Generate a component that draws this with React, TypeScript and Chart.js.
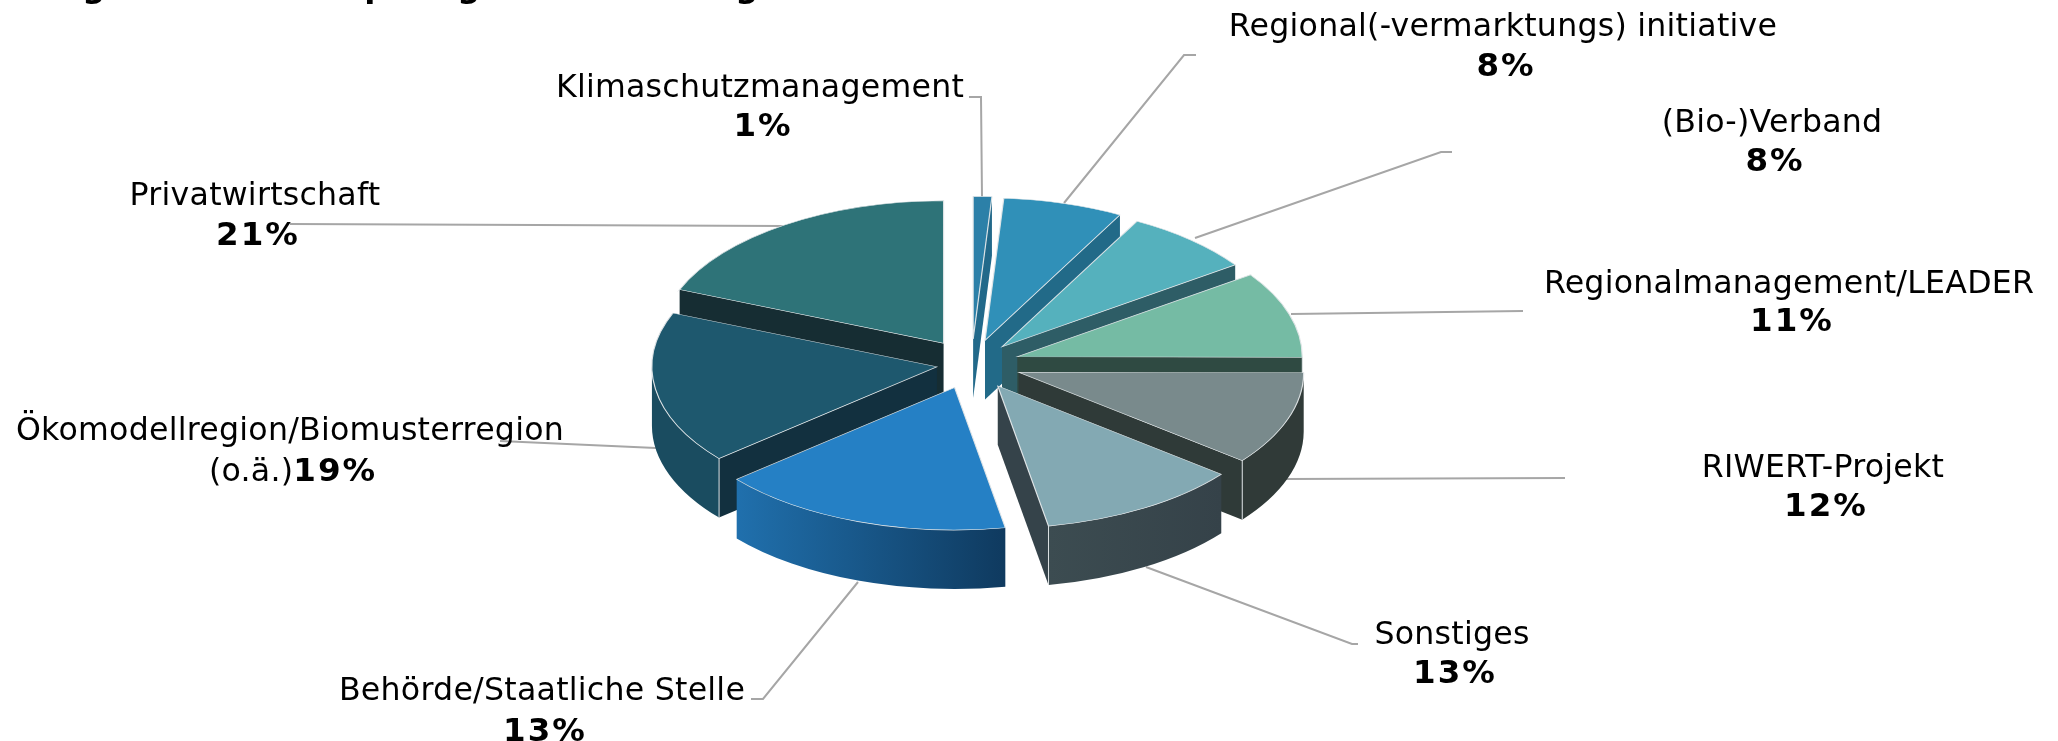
import React, { useEffect, useRef } from "react";
import { Chart, registerables } from "chart.js";

Chart.register(...registerables);

// Order of slices, clockwise from twelve o'clock
const categories = [
  "Klimaschutzmanagement",
  "Regional(-vermarktungs) initiative",
  "(Bio-)Verband",
  "Regionalmanagement/LEADER",
  "RIWERT-Projekt",
  "Sonstiges",
  "Behörde/Staatliche Stelle",
  "Ökomodellregion/Biomusterregion",
  "Privatwirtschaft",
];
// Printed percentage labels
const printedLabels = ["1%", "8%", "8%", "11%", "12%", "13%", "13%", "19%", "21%"];
// Slice sizes (the printed labels add up to 106 %)
const sliceShares = [1.05, 6.8, 7.4, 9.8, 10.6, 11.5, 16.7, 17.3, 18.85];
const explodeOffsets = [50, 49, 46, 48, 50, 51, 50, 35, 50];

const topColors = ["#2c80a8", "#3090b8", "#55b1bd", "#75bba4", "#798a8c", "#83a9b3", "#2580c5", "#1e586e", "#2e7378"];
const radialColors = ["#22698a", "#226a88", "#2e5d66", "#2f4a42", "#2f3a38", "#35434a", "#12303f", "#12303f", "#162d33"];
const wallFrom = ["#22698a", "#226a88", "#2e5d66", "#2f4a42", "#303a38", "#3c4c51", "#2070ad", "#1a4c60", "#162d33"];
const wallTo = ["#22698a", "#226a88", "#2e5d66", "#2f4a42", "#303a38", "#354249", "#0f3a5f", "#1a4c60", "#162d33"];
const drawOrder = [8, 0, 1, 2, 3, 7, 4, 5, 6];

const SQUASH = 0.5;
const DEPTH = 59;
const RADIUS = 285;
const EDGE = "rgba(226,230,232,0.95)";
const FONT = '"DejaVu Sans", Verdana, sans-serif';
const FONT_SIZE = 31.6;
const BOLD_SIZE = 32.5;
const SPACING = "0.25px";
const BOLD_SPACING = "2px";
const BOLD_SHIFT = 3;

// Label layout: centre x, first line y, second line y (middle of the text)
const labelX = [760, 1503, 1772, 1789, 1823, 1452, 542, 290, 255];
const labelY1 = [89, 28, 124, 285, 469, 636, 692, 432, 197];
const labelY2 = [128, 68, 163, 323, 508, 675, 733, 473, 237];

// Leader polylines, as [x, y] pairs
const leaders = [
  [[969, 97], [981, 97], [982, 197]],
  [[1196, 55], [1184, 55], [1064, 203]],
  [[1452, 152], [1441, 152], [1195, 238]],
  [[1523, 311], [1291, 314]],
  [[1565, 478], [1286, 479]],
  [[1358, 644], [1352, 644], [1146, 567]],
  [[751, 699], [763, 699], [858, 582]],
  [[500, 441], [656, 448]],
  [[290, 224], [784, 226]],
];

// Clipped title at the top edge: only the descenders are visible
const titleGlyphs = ["g", "p", "g", "g"];
const titleGlyphX = [95, 377, 470, 748];

const threeD = {
  id: "threeD",
  beforeDatasetsDraw(chart: any) {
    const ctx = chart.ctx as CanvasRenderingContext2D;
    const arcs = chart.getDatasetMeta(0).data;

    // leader lines lie behind the pie
    ctx.save();
    ctx.strokeStyle = "#a6a6a6";
    ctx.lineWidth = 2;
    leaders.forEach((pts) => {
      ctx.beginPath();
      pts.forEach(([x, y], i) => (i ? ctx.lineTo(x, y) : ctx.moveTo(x, y)));
      ctx.stroke();
    });
    ctx.restore();

    drawOrder.forEach((i) => {
      const arc = arcs[i];
      const { x, y, startAngle: a0, endAngle: a1, outerRadius: r } = arc;
      const off = explodeOffsets[i];
      const mid = (a0 + a1) / 2;
      const ox = x + Math.cos(mid) * off;
      const oy = y + Math.sin(mid) * off * SQUASH;
      const pt = (a: number): [number, number] => [ox + r * Math.cos(a), oy + r * SQUASH * Math.sin(a)];

      // radial cut faces
      const radial = (a: number) => {
        const [ex, ey] = pt(a);
        ctx.beginPath();
        ctx.moveTo(ox, oy);
        ctx.lineTo(ex, ey);
        ctx.lineTo(ex, ey + DEPTH);
        ctx.lineTo(ox, oy + DEPTH);
        ctx.closePath();
        ctx.fillStyle = radialColors[i];
        ctx.fill();
      };
      const edgeLine = (a: number) => {
        const [ex, ey] = pt(a);
        ctx.beginPath();
        ctx.moveTo(ex, ey);
        ctx.lineTo(ex, ey + DEPTH);
        ctx.strokeStyle = EDGE;
        ctx.lineWidth = 1;
        ctx.stroke();
      };
      const startVisible = Math.sin(a0 - Math.PI / 2) > 1e-6;
      const endVisible = Math.sin(a1 + Math.PI / 2) > 1e-6;
      if (startVisible) radial(a0);
      if (endVisible) radial(a1);

      // outer wall: only the part of the rim that faces the viewer
      const w0 = Math.max(a0, 0);
      const w1 = Math.min(a1, Math.PI);
      if (w1 > w0) {
        const [lx] = pt(w1);
        const [rx] = pt(w0);
        const g = ctx.createLinearGradient(lx, 0, rx, 0);
        g.addColorStop(0, wallFrom[i]);
        g.addColorStop(1, wallTo[i]);
        ctx.beginPath();
        ctx.ellipse(ox, oy, r, r * SQUASH, 0, w0, w1);
        ctx.ellipse(ox, oy + DEPTH, r, r * SQUASH, 0, w1, w0, true);
        ctx.closePath();
        ctx.fillStyle = g;
        ctx.fill();
      }
      if (startVisible && w1 > w0) edgeLine(a0);
      if (endVisible && w1 > w0) edgeLine(a1);

      // top face, drawn by the library's own arc element
      ctx.save();
      ctx.translate(ox - x, oy);
      ctx.scale(1, SQUASH);
      ctx.translate(0, -y);
      arc.draw(ctx);
      ctx.restore();
    });
    return false;
  },
  afterDraw(chart: any) {
    const ctx = chart.ctx as any;
    const regular = () => {
      ctx.font = `${FONT_SIZE}px ${FONT}`;
      ctx.letterSpacing = SPACING;
    };
    const bold = () => {
      ctx.font = `bold ${BOLD_SIZE}px ${FONT}`;
      ctx.letterSpacing = BOLD_SPACING;
    };
    ctx.save();
    ctx.fillStyle = "#000";
    ctx.textBaseline = "middle";
    ctx.textAlign = "center";
    categories.forEach((name, i) => {
      regular();
      ctx.fillText(name, labelX[i], labelY1[i]);
      if (i === 7) {
        const a = "(o.ä.)";
        const b = printedLabels[i];
        const wa = ctx.measureText(a).width;
        bold();
        const wb = ctx.measureText(b).width;
        const left = labelX[i] - (wa + wb) / 2 + BOLD_SHIFT;
        ctx.textAlign = "left";
        ctx.fillText(b, left + wa, labelY2[i]);
        regular();
        ctx.fillText(a, left, labelY2[i]);
        ctx.textAlign = "center";
      } else {
        bold();
        ctx.fillText(printedLabels[i], labelX[i] + BOLD_SHIFT, labelY2[i]);
      }
    });
    ctx.textBaseline = "alphabetic";
    bold();
    titleGlyphs.forEach((g, i) => ctx.fillText(g, titleGlyphX[i], -3));
    ctx.restore();
  },
};

export default function App() {
  const ref = useRef<HTMLCanvasElement>(null);
  useEffect(() => {
    document.body.style.margin = "0";
    document.body.style.background = "#fff";
    const chart = new Chart(ref.current!, {
      type: "pie",
      data: {
        labels: categories,
        datasets: [
          {
            data: sliceShares,
            backgroundColor: topColors,
            borderColor: EDGE,
            borderWidth: 1.2,
            radius: RADIUS,
            borderJoinStyle: "miter",
          } as any,
        ],
      },
      options: {
        animation: false,
        responsive: false,
        devicePixelRatio: 1,
        layout: { padding: { left: 0, right: 115, top: 0, bottom: 13 } },
        plugins: { legend: { display: false }, tooltip: { enabled: false }, title: { display: false } },
      },
      plugins: [threeD],
    } as any);
    return () => chart.destroy();
  }, []);
  return <canvas ref={ref} width={2058} height={741} style={{ display: "block" }} />;
}
